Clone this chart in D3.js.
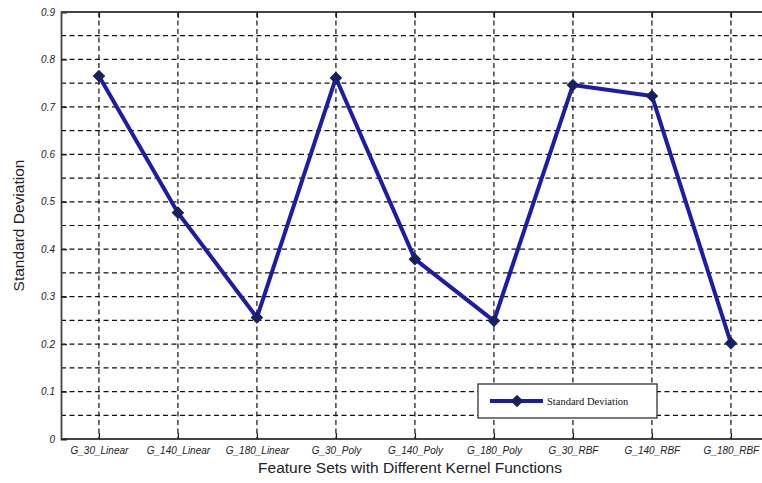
<!DOCTYPE html>
<html>
<head>
<meta charset="utf-8">
<script src="https://cdnjs.cloudflare.com/ajax/libs/d3/7.8.5/d3.min.js"></script>
<style>
  body { margin: 0; background: #fff; }
  .tick text { font-family: Arial, "Liberation Sans", sans-serif; font-style: italic; fill: #222; }
</style>
</head>
<body>
<div id="chart"></div>
<script>
// categories and values
var categories = ["G_30_Linear", "G_140_Linear", "G_180_Linear", "G_30_Poly", "G_140_Poly",
                  "G_180_Poly", "G_30_RBF", "G_140_RBF", "G_180_RBF"];
var stdDev = [0.765, 0.477, 0.256, 0.761, 0.379, 0.249, 0.746, 0.723, 0.202];
var yTicks = [0, 0.1, 0.2, 0.3, 0.4, 0.5, 0.6, 0.7, 0.8, 0.9];
var yGrid = [0.05, 0.1, 0.15, 0.2, 0.25, 0.3, 0.35, 0.4, 0.45, 0.5, 0.55, 0.6, 0.65, 0.7, 0.75, 0.8, 0.85];

var svgWidth = 762, svgHeight = 483;
var margin = {top: 12, right: 0, bottom: 44, left: 61};
var width = svgWidth - margin.left - margin.right;
var height = svgHeight - margin.top - margin.bottom;

var svg = d3.select("#chart").append("svg")
  .attr("width", svgWidth)
  .attr("height", svgHeight);

var chartGroup = svg.append("g")
  .attr("transform", `translate(${margin.left}, ${margin.top})`);

// index scale, so the plot can run past the right edge like the original
var x = d3.scaleLinear()
  .domain([0.52, 9.5])
  .range([0, 79 * 8.98]);
var y = d3.scaleLinear()
  .domain([0, 0.9])
  .range([height, 0]);

// grid
chartGroup.append("g").selectAll("line.hg")
  .data(yGrid).enter().append("line")
  .attr("x1", 0).attr("x2", width)
  .attr("y1", d => y(d)).attr("y2", d => y(d))
  .attr("stroke", "#111").attr("stroke-width", 1.2)
  .attr("stroke-dasharray", "5,3.5");

chartGroup.append("g").selectAll("line.vg")
  .data(categories).enter().append("line")
  .attr("x1", (d, i) => x(i + 1)).attr("x2", (d, i) => x(i + 1))
  .attr("y1", 0).attr("y2", height)
  .attr("stroke", "#111").attr("stroke-width", 1.2)
  .attr("stroke-dasharray", "5,3.5");

// axes
var bottomAxis = d3.axisBottom(x)
  .tickValues(d3.range(1, categories.length + 1))
  .tickFormat(d => categories[d - 1])
  .tickSize(-6).tickPadding(8);
var leftAxis = d3.axisLeft(y)
  .tickValues(yTicks)
  .tickFormat(d => d === 0 ? "0" : d3.format(".1f")(d))
  .tickSize(-6).tickPadding(6);
var topAxis = d3.axisTop(x).tickValues(d3.range(1, categories.length + 1))
  .tickFormat("").tickSize(-6);

var gx = chartGroup.append("g")
  .attr("transform", `translate(0, ${height})`)
  .call(bottomAxis);
var gy = chartGroup.append("g").call(leftAxis);
var gt = chartGroup.append("g").call(topAxis);

[gx, gy, gt].forEach(function(g) {
  g.select(".domain").attr("stroke", "#444").attr("stroke-width", 1.8);
  g.selectAll(".tick line").attr("stroke", "#222").attr("stroke-width", 1.3);
  g.selectAll(".tick text").style("font-size", "10px");
});
gx.select(".domain").attr("d", `M0,0H${width}`);
gt.select(".domain").attr("d", `M0,0H${width}`);

// line
var line = d3.line()
  .x((d, i) => x(i + 1))
  .y(d => y(d));

chartGroup.append("path")
  .datum(stdDev)
  .attr("fill", "none")
  .attr("stroke", "#1c1ca6")
  .attr("stroke-width", 4)
  .attr("stroke-linejoin", "round")
  .attr("d", line);

// square diamond, rotated 45 degrees
var diamond = d3.symbol().type(d3.symbolSquare).size(80);
chartGroup.selectAll("path.marker")
  .data(stdDev).enter().append("path")
  .attr("class", "marker")
  .attr("d", diamond)
  .attr("transform", (d, i) => `translate(${x(i + 1)}, ${y(d)}) rotate(45)`)
  .attr("fill", "#14225e");

// legend
var legend = svg.append("g").attr("transform", "translate(478, 384)");
legend.append("rect")
  .attr("width", 179).attr("height", 34)
  .attr("fill", "#fff").attr("stroke", "#222").attr("stroke-width", 1.2);
legend.append("line")
  .attr("x1", 12).attr("x2", 65).attr("y1", 17).attr("y2", 17)
  .attr("stroke", "#1c1ca6").attr("stroke-width", 4);
legend.append("path")
  .attr("d", diamond)
  .attr("transform", "translate(39, 17) rotate(45)")
  .attr("fill", "#14225e");
legend.append("text")
  .attr("x", 69).attr("y", 21)
  .style("font", "10.5px 'Liberation Serif', 'DejaVu Serif', serif")
  .attr("fill", "#111")
  .text("Standard Deviation");

// axis labels
svg.append("text")
  .attr("transform", `translate(24, ${margin.top + height / 2}) rotate(-90)`)
  .attr("text-anchor", "middle")
  .style("font", "15.5px Arial, 'Liberation Sans', sans-serif")
  .attr("fill", "#222")
  .text("Standard Deviation");

svg.append("text")
  .attr("x", 410).attr("y", 473)
  .attr("text-anchor", "middle")
  .style("font", "15.5px Arial, 'Liberation Sans', sans-serif")
  .attr("fill", "#222")
  .text("Feature Sets with Different Kernel Functions");
</script>
</body>
</html>
